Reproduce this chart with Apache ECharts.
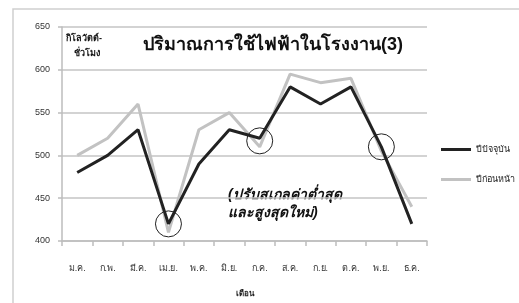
<!DOCTYPE html>
<html>
<head>
<meta charset="utf-8">
<script src="https://cdn.jsdelivr.net/npm/echarts@6/dist/echarts.min.js"></script>
<style>
  html, body { margin: 0; padding: 0; background: #fff; }
  #chart-container { width: 519px; height: 303px; }
</style>
</head>
<body>
<div id="chart-container"></div>
<script>
var months = ['ม.ค.', 'ก.พ.', 'มี.ค.', 'เม.ย.', 'พ.ค.', 'มิ.ย.', 'ก.ค.', 'ส.ค.', 'ก.ย.', 'ต.ค.', 'พ.ย.', 'ธ.ค.'];
var thisYear = [480, 500, 530, 420, 490, 530, 520, 580, 560, 580, 510, 420];
var lastYear = [500, 520, 560, 410, 530, 550, 510, 595, 585, 590, 505, 440];
var yTicks = [400, 450, 500, 550, 600, 650];
// circled points: [month, value]
var circled = [['เม.ย.', 420], ['ก.ค.', 517], ['พ.ย.', 510]];

var dom = document.getElementById('chart-container');
var myChart = echarts.init(dom, null, { renderer: 'canvas' });

var option = {
    animation: false,
    backgroundColor: '#fff',
    textStyle: { fontFamily: 'sans-serif' },
    grid: { left: 62, right: 92, top: 27, bottom: 55 },
    legend: {
        orient: 'vertical',
        left: 436,
        top: 140,
        itemWidth: 30,
        itemHeight: 3,
        itemGap: 21,
        icon: 'rect',
        textStyle: { fontSize: 9, color: '#222' },
        data: [
            { name: 'ปีปัจจุบัน', itemStyle: { color: '#222' } },
            { name: 'ปีก่อนหน้า', itemStyle: { color: '#c2c2c2' } }
        ]
    },
    xAxis: {
        type: 'category',
        data: months,
        name: 'เดือน',
        nameLocation: 'middle',
        nameGap: 49,
        nameTextStyle: { fontSize: 8, fontWeight: 'bold', color: '#222' },
        axisLine: { lineStyle: { color: '#bdbdbd', width: 1.5 } },
        axisTick: { show: true, length: 5, lineStyle: { color: '#bdbdbd', width: 1.5 } },
        axisLabel: { fontSize: 9, color: '#333', margin: 23 }
    },
    yAxis: {
        type: 'value',
        min: yTicks[0],
        max: yTicks[yTicks.length - 1],
        interval: 50,
        axisLine: { show: true, lineStyle: { color: '#bdbdbd', width: 1.5 } },
        axisTick: { show: true, length: 4, lineStyle: { color: '#bdbdbd', width: 1.5 } },
        axisLabel: { fontSize: 9, color: '#333', margin: 12 },
        splitLine: { lineStyle: { color: '#c4c4c4', width: 1.5 } }
    },
    series: [
        {
            name: 'ปีก่อนหน้า',
            type: 'line',
            data: lastYear,
            symbol: 'none',
            z: 2,
            lineStyle: { color: '#c2c2c2', width: 3 },
            itemStyle: { color: '#c2c2c2' }
        },
        {
            name: 'ปีปัจจุบัน',
            type: 'line',
            data: thisYear,
            symbol: 'none',
            z: 3,
            lineStyle: { color: '#222', width: 3 },
            itemStyle: { color: '#222' },
            markPoint: {
                symbol: 'circle',
                symbolSize: 26,
                silent: true,
                label: { show: false },
                itemStyle: { color: 'rgba(0,0,0,0)', borderColor: '#222', borderWidth: 1 },
                data: circled.map(function (c) { return { coord: c }; })
            }
        }
    ],
    graphic: [
        {
            type: 'rect',
            shape: { x: 13, y: 9, width: 520, height: 310 },
            style: { fill: 'none', stroke: '#cfcfcf', lineWidth: 1.5 },
            silent: true
        },
        {
            type: 'text',
            left: 143,
            top: 36,
            style: {
                text: 'ปริมาณการใช้ไฟฟ้าในโรงงาน(3)',
                font: 'bold 18px sans-serif',
                fill: '#111'
            }
        },
        {
            type: 'text',
            left: 66,
            top: 31,
            style: {
                text: 'กิโลวัตต์-\n   ชั่วโมง',
                font: 'bold 9px sans-serif',
                fill: '#111',
                lineHeight: 15
            }
        },
        {
            type: 'text',
            left: 228,
            top: 186,
            style: {
                text: '(ปรับสเกลค่าต่ำสุด\nและสูงสุดใหม่)',
                font: 'italic bold 14px sans-serif',
                fill: '#111',
                lineHeight: 18
            }
        }
    ]
};

if (option && typeof option === 'object') {
    myChart.setOption(option);
}

window.addEventListener('resize', myChart.resize);
</script>
</body>
</html>
